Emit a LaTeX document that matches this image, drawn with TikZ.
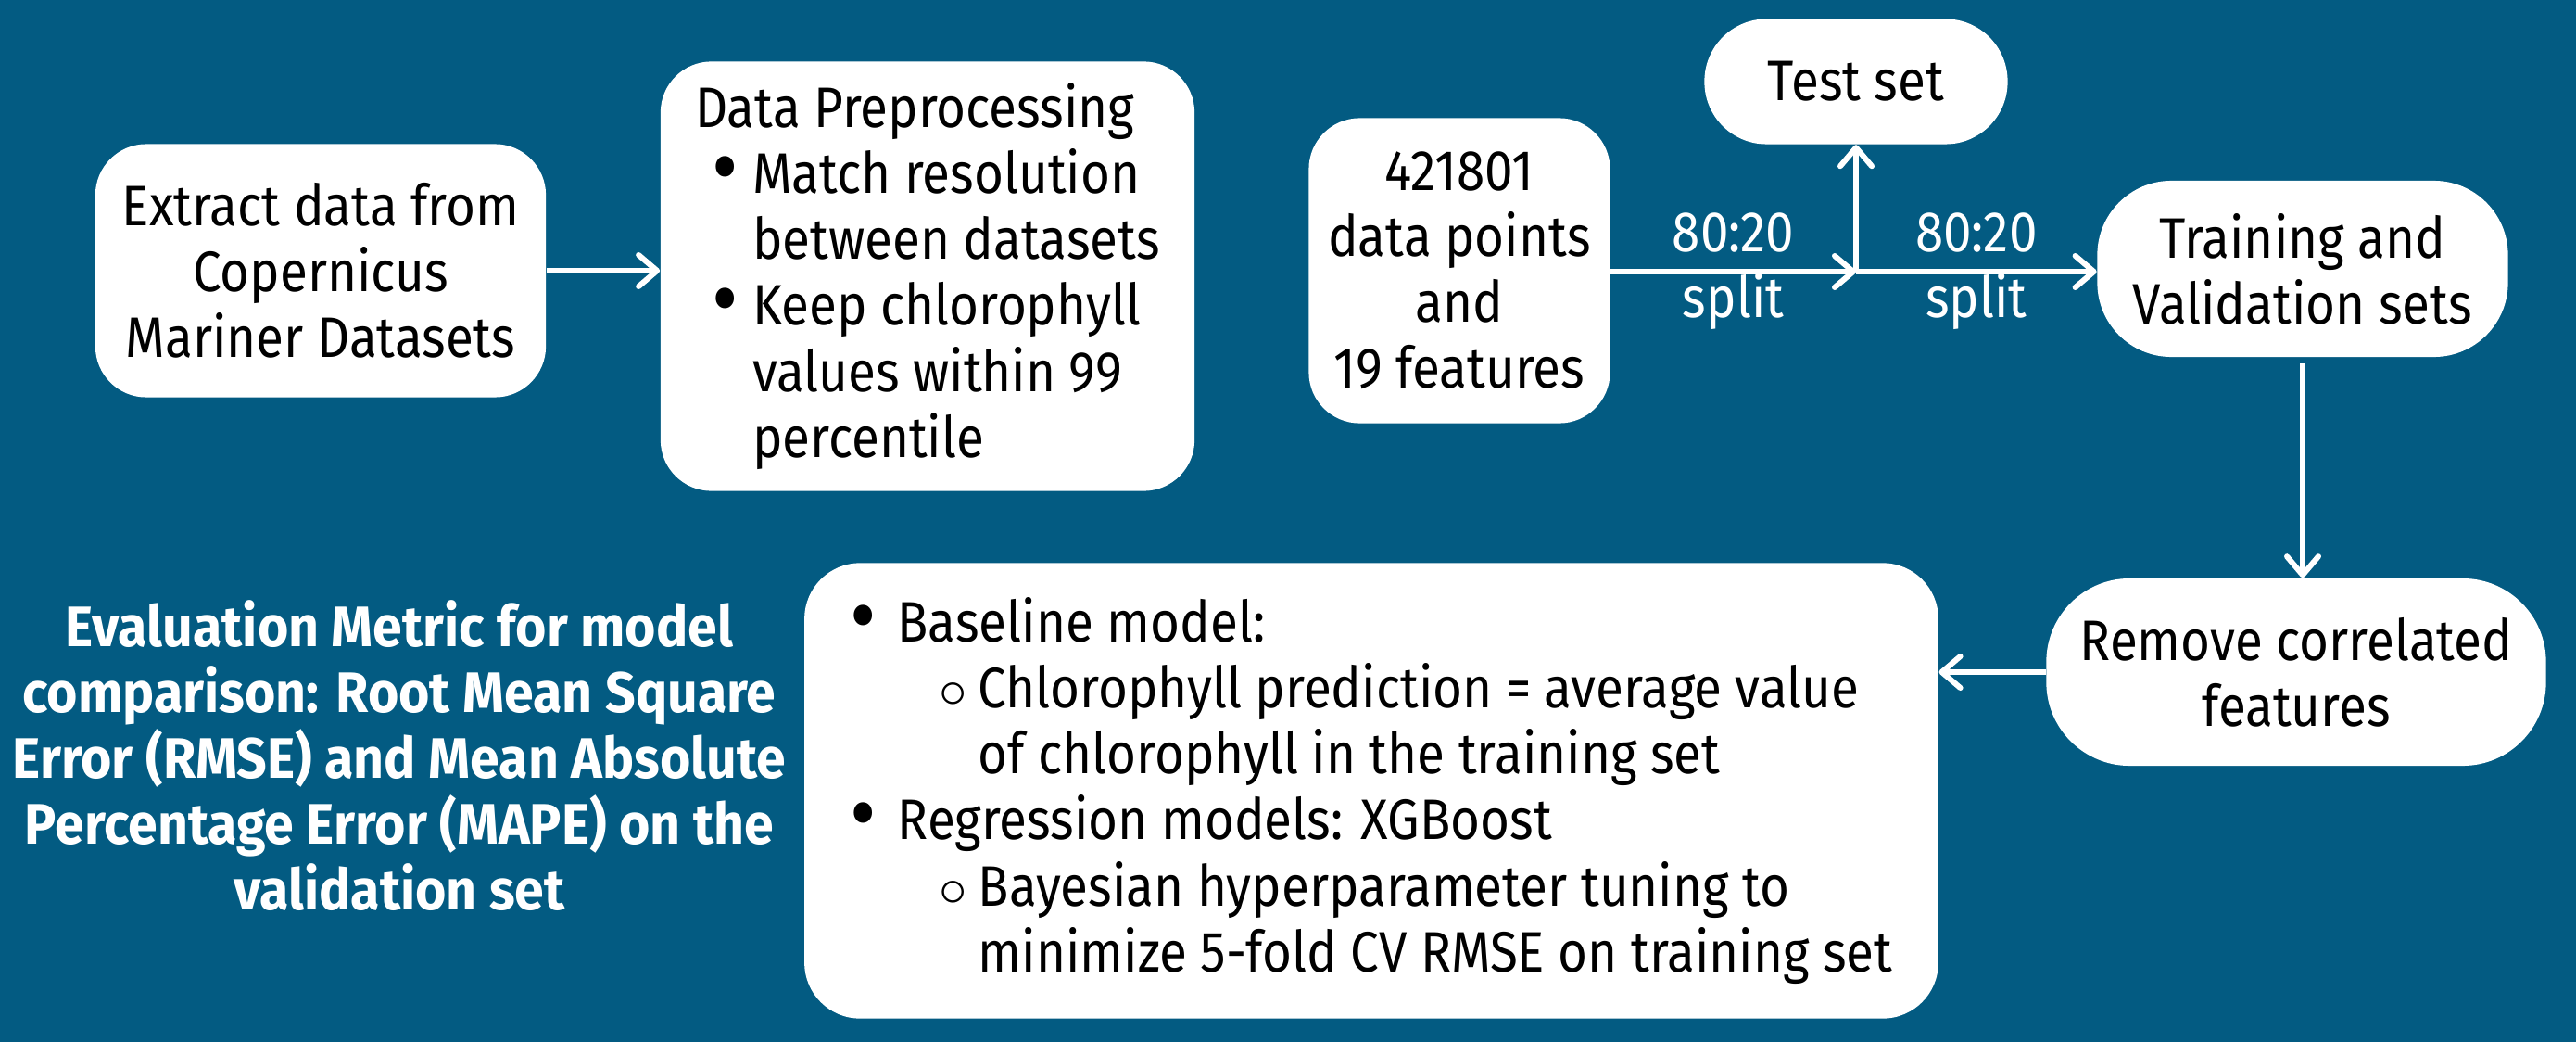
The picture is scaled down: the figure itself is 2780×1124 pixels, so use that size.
\documentclass[tikz,border=0pt]{standalone}
\usepackage{fontspec}
\setmainfont{Fira Sans}[FakeStretch=0.89,BoldFeatures={FakeStretch=0.93}]
\usepackage{tikz}
\usetikzlibrary{arrows.meta,positioning,calc}
\definecolor{bgblue}{RGB}{3,91,130}
\newcommand{\mainfnt}{\fontsize{17.5}{20.2}\selectfont}
\newcommand{\bul}[1]{\makebox[#1][l]{\smash{\raisebox{-0.08em}{\scalebox{1.6}{\textbullet}}}}}
\newcommand{\sbul}{\makebox[0.42cm][l]{$\circ$}}
\tikzset{
  box/.style={fill=white,rounded corners=0.55cm,align=left,font=\mainfnt,
              text=black,inner sep=0pt},
  arr/.style={-{Straight Barb[length=0.2cm,width=0.34cm,round]},line width=0.06cm,white},
  splitlbl/.style={font=\mainfnt,text=white,align=center},
  evallbl/.style={font=\mainfnt\bfseries,text=white,align=center},
}

\begin{document}
\begin{tikzpicture}[x=0.01cm,y=-0.01cm]
  \fill[bgblue] (0,0) rectangle (2780,1124);
  \useasboundingbox (0,0) rectangle (2780,1124);
  %% Top row
  \node[box,align=center,minimum width=4.86cm,minimum height=2.73cm] (extract) at (346,292)
    {Extract data from\\Copernicus\\Mariner Datasets};
  \node[box,minimum width=5.76cm,minimum height=4.63cm] (prep) at (1001,298)
    {Data Preprocessing\\
     \hspace*{0.18cm}\bul{0.44cm}Match resolution\\
     \hspace*{0.62cm}between datasets\\
     \hspace*{0.18cm}\bul{0.44cm}Keep chlorophyll\\
     \hspace*{0.62cm}values within 99\\
     \hspace*{0.62cm}percentile};
  \node[box,align=center,minimum width=3.25cm,minimum height=3.29cm] (points) at (1575,292)
    {421801\\data points\\and\\19 features};
  \coordinate (split) at (2003,293);
  \node[box,align=center,rounded corners=0.67cm,minimum width=3.27cm,minimum height=1.35cm] (test) at (2003,88)
    {Test set};
  \node[box,align=center,rounded corners=0.8cm,minimum width=4.43cm,minimum height=1.9cm] (train) at (2485,290)
    {Training and\\Validation sets};
  %% Bottom row
  \node[box,align=center,rounded corners=0.9cm,minimum width=5.39cm,minimum height=2.02cm] (remove) at (2478,725)
    {Remove correlated\\features};
  \node[box,rounded corners=0.6cm,minimum width=12.23cm,minimum height=4.91cm] (models) at (1480,853)
    {\bul{0.51cm}Baseline model:\\
     \hspace*{0.96cm}\sbul Chlorophyll prediction = average value\\
     \hspace*{1.38cm}of chlorophyll in the training set\\
     \bul{0.51cm}Regression models: XGBoost\\
     \hspace*{0.96cm}\sbul Bayesian hyperparameter tuning to\\
     \hspace*{1.38cm}minimize 5-fold CV RMSE on training set};
  \node[evallbl] (eval) at (431,815)
    {Evaluation Metric for model\\comparison: Root Mean Square\\Error (RMSE) and Mean Absolute\\Percentage Error (MAPE) on the\\validation set};

  %% Connectors
  \draw[arr] (extract.east) -- (extract.east -| prep.west);
  \draw[arr] (points.east |- split) -- (split) node[midway,splitlbl] {80:20\\split};
  \draw[arr] (split) -- (test.south);
  \draw[arr] (split) -- (split -| train.west) node[midway,splitlbl] {80:20\\split};
  \draw[arr] ([yshift=-0.06cm]train.south) -- (train.south |- remove.north);
  \draw[arr] (remove.west) -- (remove.west -| models.east);
\end{tikzpicture}
\end{document}
